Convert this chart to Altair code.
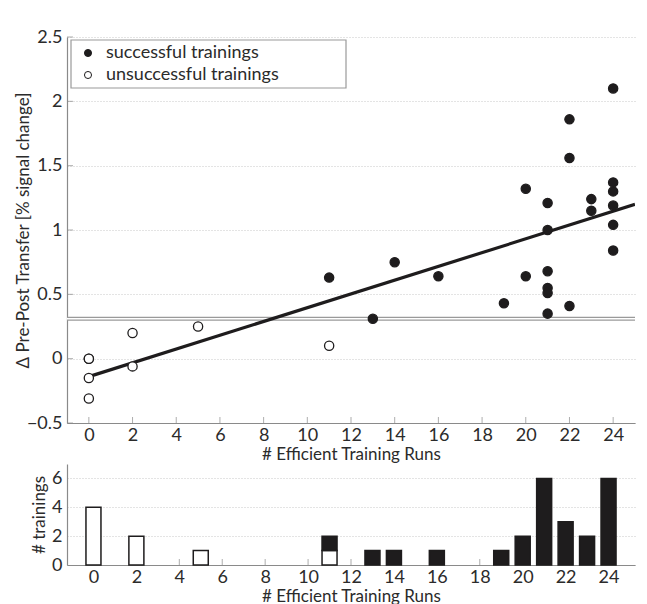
import altair as alt
import pandas as pd

# ---- data ----
succ_x = [11, 13, 14, 16, 19, 20, 20, 21, 21, 21, 21, 21, 21, 22, 22, 22, 23, 23, 24, 24, 24, 24, 24, 24]
succ_y = [0.63, 0.31, 0.75, 0.64, 0.43, 1.32, 0.64, 1.21, 1.00, 0.68, 0.55, 0.51, 0.35,
          1.86, 1.56, 0.41, 1.24, 1.15, 2.10, 1.37, 1.30, 1.19, 1.04, 0.84]
fail_x = [0, 0, 0, 0, 2, 2, 5, 11]
fail_y = [0.0, 0.0, -0.15, -0.31, 0.20, -0.06, 0.25, 0.10]
threshold = 0.31

hist_x = [0, 2, 5, 11, 13, 14, 16, 19, 20, 21, 22, 23, 24]
hist_succ = [0, 0, 0, 1, 1, 1, 1, 1, 2, 6, 3, 2, 6]
hist_fail = [4, 2, 1, 1, 0, 0, 0, 0, 0, 0, 0, 0, 0]

x_ticks = list(range(0, 25, 2))
y_ticks = [-0.5, 0, 0.5, 1, 1.5, 2, 2.5]
hist_y_ticks = [0, 2, 4, 6]
legend_labels = ["successful trainings", "unsuccessful trainings"]
x_title = "# Efficient Training Runs"
y_title = "Δ Pre-Post Transfer [% signal change]"
hist_y_title = "# trainings"

# ---- style ----
FONT = "Lato"
FS = 18
TFS = 17
DARK = "#1e1c1d"
AXIS = "#8a8a8a"
TEXT = "#2b2b2b"
W, H, HH = 568, 386, 101

scatter = pd.DataFrame({
    "x": succ_x + fail_x,
    "y": succ_y + fail_y,
    "type": [legend_labels[0]] * len(succ_x) + [legend_labels[1]] * len(fail_x),
})

xscale = alt.Scale(domain=[-1, 25], nice=False, zero=False)
yscale = alt.Scale(domain=[-0.5, 2.5], nice=False, zero=False)
fill_scale = alt.Scale(domain=legend_labels, range=[DARK, "white"])

base = alt.Chart(scatter)

thr_df = pd.DataFrame({"t": [threshold]})
thr_outer = alt.Chart(thr_df).mark_rule(color="#9a9a9a", strokeWidth=4).encode(
    y=alt.Y("t:Q", scale=yscale))
thr_inner = alt.Chart(thr_df).mark_rule(color="white", strokeWidth=1.4).encode(
    y=alt.Y("t:Q", scale=yscale))

reg = base.transform_regression("x", "y", extent=[0, 25]).mark_line(
    color=DARK, strokeWidth=3.2, clip=True).encode(
    x=alt.X("x:Q", scale=xscale), y=alt.Y("y:Q", scale=yscale))

points = base.mark_circle(size=85, opacity=1, stroke=DARK, strokeWidth=1.3).encode(
    x=alt.X("x:Q", scale=xscale,
            axis=alt.Axis(values=x_ticks, title=x_title, grid=False, labelPadding=3, titlePadding=2)),
    y=alt.Y("y:Q", scale=yscale,
            axis=alt.Axis(values=y_ticks, title=y_title, format=".1~f", grid=True,
                          labelPadding=5, titlePadding=-6)),
    fill=alt.Fill("type:N", scale=fill_scale, legend=None),
)

xt_df = pd.DataFrame({"v": x_ticks})
yt_df = pd.DataFrame({"v": y_ticks})
xtick_top = alt.Chart(xt_df).mark_tick(color=AXIS, size=6, thickness=1, yOffset=-3).encode(
    x=alt.X("v:Q", scale=xscale), y=alt.value(H))
ytick_top = alt.Chart(yt_df).mark_tick(color=AXIS, size=6, thickness=1, xOffset=3).encode(
    y=alt.Y("v:Q", scale=yscale), x=alt.value(0))

# manual legend
leg_layers = [
    alt.Chart(pd.DataFrame({"a": [0]})).mark_rect(fill="white", stroke="#9a9a9a", strokeWidth=1.2).encode(
        x=alt.value(4), x2=alt.value(279), y=alt.value(3), y2=alt.value(51))
]
for i, lab in enumerate(legend_labels):
    ldf = pd.DataFrame({"label": [lab]})
    leg_layers.append(
        alt.Chart(ldf).mark_circle(size=50, opacity=1, stroke=DARK, strokeWidth=1,
                                   fill=DARK if i == 0 else "white").encode(
            x=alt.value(21), y=alt.value(16 + 22 * i)))
    leg_layers.append(
        alt.Chart(ldf).mark_text(align="left", baseline="middle", font=FONT, fontSize=FS, color=TEXT).encode(
            x=alt.value(39), y=alt.value(16 + 22 * i), text="label:N"))

top = alt.layer(thr_outer, thr_inner, reg, points, xtick_top, ytick_top, *leg_layers).properties(
    width=W, height=H)

# histogram
hist = pd.DataFrame({
    "x": hist_x * 2,
    "n": hist_fail + hist_succ,
    "type": [legend_labels[1]] * len(hist_x) + [legend_labels[0]] * len(hist_x),
    "ord": [0] * len(hist_x) + [1] * len(hist_x),
})
hist = hist[hist["n"] > 0]
hyscale = alt.Scale(domain=[0, 7], nice=False)
bars = alt.Chart(hist).mark_bar(size=15, stroke=DARK, strokeWidth=1.5).encode(
    x=alt.X("x:Q", scale=xscale,
            axis=alt.Axis(values=x_ticks, title=x_title, grid=False, labelPadding=3, titlePadding=2)),
    y=alt.Y("n:Q", stack="zero", scale=hyscale,
            axis=alt.Axis(values=hist_y_ticks, title=hist_y_title, grid=True, labelPadding=5, titlePadding=3)),
    fill=alt.Fill("type:N", scale=fill_scale, legend=None),
    order=alt.Order("ord:Q"),
)
xtick_bot = alt.Chart(xt_df).mark_tick(color=AXIS, size=6, thickness=1, yOffset=-3).encode(
    x=alt.X("v:Q", scale=xscale), y=alt.value(HH))
bottom = alt.layer(xtick_bot, bars).properties(width=W, height=HH)

chart = alt.vconcat(top, bottom, spacing=2).properties(
    padding={"top": 20, "left": 6, "right": 2, "bottom": 0}
).configure_view(stroke=None).configure_axis(
    domainColor=AXIS, domainWidth=1.2, ticks=False,
    labelFont=FONT, labelFontSize=FS, labelColor=TEXT,
    titleFont=FONT, titleFontSize=TFS, titleColor=TEXT, titleFontWeight="normal",
    gridColor="#c8c8c8", gridDash=[1, 2], gridWidth=1,
)

chart.save("out.html", embed_options={"renderer": "svg", "actions": False})
